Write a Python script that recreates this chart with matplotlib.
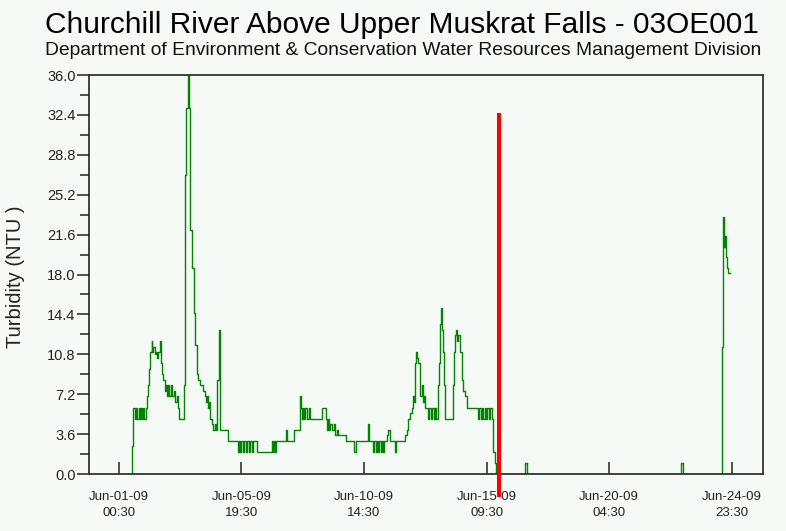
import matplotlib
matplotlib.use("Agg")
import matplotlib.pyplot as plt
from matplotlib.ticker import MultipleLocator, FormatStrFormatter

plt.rcParams['font.family'] = ['Liberation Sans', 'DejaVu Sans']

title = "Churchill River Above Upper Muskrat Falls - 03OE001"
subtitle = "Department of Environment & Conservation Water Resources Management Division"
ylabel = "Turbidity (NTU )"

# hours since Jun-01-09 00:30
hours = [12.0, 12.4, 13.6, 15.0, 16.0, 17.0, 18.5, 19.5, 21.0, 22.0, 23.0, 24.0,
         25.5, 26.5, 27.5, 28.5, 29.5, 30.8, 31.5, 32.5, 33.5, 34.5, 35.5, 37.0,
         38.6, 39.5, 40.5, 41.5, 43.3, 44.5, 45.5, 46.5, 47.5, 48.5, 50.0, 51.5,
         53.0, 54.5, 55.8, 56.8, 61.2, 62.1, 63.3, 64.6, 65.8, 67.1, 68.7, 70.3,
         71.5, 73.2, 74.7, 76.2, 79.0, 80.5, 81.5, 82.5, 83.5, 84.5, 85.5, 87.0,
         88.5, 90.0, 91.5, 92.4, 94.3, 95.2, 102.7, 112.1, 113.0, 114.0, 115.0,
         116.5, 117.5, 119.5, 120.5, 122.5, 123.5, 125.0, 126.0, 129.3, 143.4,
         144.5, 145.5, 146.5, 147.5, 157.0, 158.0, 164.6, 170.0, 171.0, 172.0,
         173.0, 174.0, 175.0, 176.5, 178.0, 179.0, 190.3, 194.5, 195.5, 196.5,
         197.5, 198.5, 200.0, 202.0, 203.0, 205.0, 206.0, 209.0, 213.0, 220.6,
         222.5, 234.0, 235.0, 238.7, 239.7, 241.0, 242.0, 243.0, 244.5, 245.5,
         246.5, 247.5, 248.5, 251.3, 252.9, 254.0, 258.6, 259.6, 268.5, 270.0,
         271.6, 273.1, 274.7, 276.3, 277.2, 277.8, 278.8, 280.0, 281.0, 282.5,
         284.1, 285.0, 286.3, 287.6, 290.4, 291.4, 293.0, 294.0, 296.0, 297.0,
         298.0, 299.1, 300.0, 301.0, 301.9, 302.8, 303.8, 304.7, 305.7, 313.2,
         314.2, 315.1, 316.4, 317.3, 318.6, 320.0, 321.6, 323.2, 324.7, 326.3,
         329.4, 337.2, 338.2, 339.4, 340.7, 342.0, 343.2, 344.5, 345.8, 347.0,
         348.3, 349.8, 351.3, 352.6, 354.0, 381.0, 382.5, 527.5, 529.0, 565.5,
         566.4, 567.4, 568.0, 568.6, 569.3, 569.9, 570.9, 571.8, 573.4]
turbidity = [0, 2.5, 6, 5, 6, 5, 6, 5, 6, 5, 6, 5,
             6, 7, 8, 9.5, 11, 12, 11, 11.5, 10.8, 11, 10.5, 11,
             12, 10, 9, 8.5, 7.5, 8, 7, 8, 7, 8, 7, 7.5,
             6.5, 7, 6, 5, 8, 27, 33, 36, 33, 22, 18.6, 14.5,
             11.6, 9, 8.5, 8, 7.5, 7, 6.5, 7, 6, 6.5, 5, 4.5,
             4, 4.5, 4, 8.5, 13, 4, 3, 2, 3, 2, 3,
             2, 3, 2, 3, 2, 3, 2, 3, 2, 3,
             2, 3, 2, 3, 4, 3, 4, 7, 6, 5,
             6, 5, 6, 5, 6, 5, 6, 5, 4, 5,
             4, 4.5, 4, 4.5, 3.5, 4, 3.5, 3.5, 3, 2,
             3, 4.5, 3, 2, 3, 2, 3, 2, 3, 2,
             3, 2, 3, 3.5, 4, 3, 2, 3, 3.5, 4,
             5, 5.5, 6, 7, 6.5, 10, 11, 10.5, 10, 7,
             8, 6.5, 7, 6, 5, 6, 5, 6, 5, 6,
             5, 8, 10, 13.5, 15, 13, 11, 8, 5, 8,
             11, 12.5, 13, 12, 12.5, 11, 8.5, 7.5, 7, 6,
             6, 5, 6, 5, 6, 5, 6, 5, 6, 5,
             6, 5, 2, 1, 0, 1, 0, 1, 0, 11.5,
             23.2, 21.6, 20.5, 21.5, 20.0, 19.6, 18.6, 18.1, 18.1]

tick_hours = [0, 115, 230, 345, 460, 575]
tick_labels = ["Jun-01-09\n00:30", "Jun-05-09\n19:30", "Jun-10-09\n14:30",
               "Jun-15-09\n09:30", "Jun-20-09\n04:30", "Jun-24-09\n23:30"]

marker_hour = 356.3
marker_top = 32.55
marker_bottom = -2.1

bg = '#F5FAF7'
fig = plt.figure(figsize=(7.86, 5.31), dpi=100, facecolor=bg)
ax = fig.add_axes([89/786, 57/531, 674/786, 399/531])
ax.set_facecolor(bg)

ax.plot(hours, turbidity, drawstyle='steps-post', color='#008400', lw=1.0, zorder=2)
ax.plot([marker_hour, marker_hour], [marker_bottom, marker_top], color='#ff0000',
        lw=2.9, solid_capstyle='butt', clip_on=False, zorder=5)

ax.set_xlim(-28, 604.3)
ax.set_ylim(0, 36)

ax.yaxis.set_major_locator(MultipleLocator(3.6))
ax.yaxis.set_minor_locator(MultipleLocator(1.8))
ax.yaxis.set_major_formatter(FormatStrFormatter('%.1f'))
ax.tick_params(axis='y', which='major', direction='out', length=8.6, width=1.2,
               color='#333333', labelsize=10.5, labelcolor='#222222', pad=1)
ax.tick_params(axis='y', which='minor', direction='out', length=6.5, width=1.2,
               color='#333333')

ax.set_xticks(tick_hours)
ax.set_xticklabels(tick_labels, linespacing=1.5)
ax.tick_params(axis='x', which='major', direction='in', length=9, width=1.2,
               color='#333333', labelsize=9.5, labelcolor='#222222', pad=12)

for s in ax.spines.values():
    s.set_color('#333333')
    s.set_linewidth(1.3)
    s.set_zorder(3)

fig.text(0.5108, 1 - 33/531, title, ha='center', va='baseline', fontsize=21.5, color='#000000')
fig.text(0.5127, 1 - 55/531, subtitle, ha='center', va='baseline', fontsize=13.9, color='#111111')
fig.text(16/786, 1 - 276.5/531, ylabel, ha='center', va='center', rotation=90,
         fontsize=14.5, color='#222222')

fig.savefig('out.png', dpi=100, facecolor=bg)
